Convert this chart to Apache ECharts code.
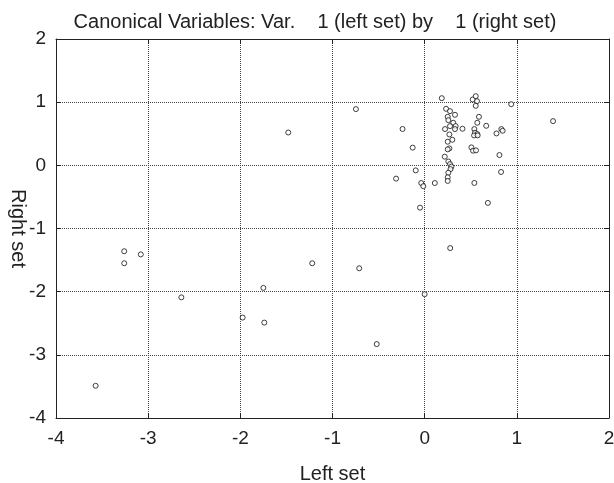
<!DOCTYPE html>
<html>
<head>
<meta charset="utf-8">
<script src="https://cdn.jsdelivr.net/npm/echarts@6/dist/echarts.min.js"></script>
<style>
  html, body { margin: 0; padding: 0; background: #fff; }
  #chart { width: 614px; height: 483px; }
</style>
</head>
<body>
<div id="chart"></div>
<script>
// canonical scores
const leftSet = [
  -3.57, -3.26, -3.26, -3.08, -2.64, -1.975, -1.75, -1.74, -1.48, -1.22,
  -0.746, -0.71, -0.52, -0.31, -0.24, -0.13, -0.097, -0.037, -0.015, -0.05,
  0.0, 0.11, 0.277,
  0.186, 0.521, 0.554, 0.568, 0.554, 0.939, 1.393, 0.232, 0.275, 0.329,
  0.25, 0.257, 0.31, 0.336, 0.275, 0.221, 0.329, 0.41, 0.268, 0.3,
  0.25, 0.268, 0.25, 0.589, 0.571, 0.668, 0.539, 0.546, 0.571, 0.536,
  0.575, 0.779, 0.832, 0.846, 0.507, 0.525, 0.557, 0.811, 0.829, 0.218,
  0.257, 0.275, 0.29, 0.28, 0.257, 0.25, 0.25, 0.539, 0.686
];
const rightSet = [
  -3.49, -1.36, -1.55, -1.41, -2.09, -2.41, -1.94, -2.49, 0.52, -1.55,
  0.89, -1.63, -2.83, -0.21, 0.575, 0.28, -0.08, -0.28, -0.33, -0.67,
  -2.04, -0.28, -1.31,
  1.063, 1.042, 1.095, 1.016, 0.942, 0.968, 0.70, 0.895, 0.858, 0.80,
  0.768, 0.716, 0.674, 0.621, 0.621, 0.574, 0.574, 0.579, 0.489, 0.405,
  0.374, 0.268, 0.253, 0.768, 0.674, 0.626, 0.574, 0.516, 0.495, 0.474,
  0.474, 0.505, 0.574, 0.547, 0.284, 0.232, 0.237, 0.163, -0.105, 0.137,
  0.06, 0.02, -0.02, -0.06, -0.117, -0.19, -0.247, -0.279, -0.595
];

const xMin = -4, xMax = 2;
const yMin = -4, yMax = 2;

const points = leftSet.map((x, i) => [x, rightSet[i]]);

const chart = echarts.init(document.getElementById('chart'), null, { renderer: 'canvas' });

const font = 'Liberation Sans, Arial, sans-serif';
const ink = '#222';
const frame = { show: true, onZero: false, lineStyle: { color: ink, width: 1 } };
const tick = { show: true, inside: true, length: 5, lineStyle: { color: ink } };
const grid = { show: true, lineStyle: { type: 'dotted', color: '#444', width: 1 } };

const option = {
  animation: false,
  backgroundColor: '#fff',
  title: {
    text: 'Canonical Variables: Var.    1 (left set) by    1 (right set)',
    left: 310,
    textAlign: 'center',
    top: 7,
    textStyle: { fontFamily: font, fontSize: 20, fontWeight: 'normal', color: ink }
  },
  grid: { left: 56, right: 5, top: 39, bottom: 65, outerBoundsMode: 'none', containLabel: false },
  xAxis: [{
    type: 'value', min: xMin, max: xMax, interval: 1,
    name: 'Left set', nameLocation: 'middle', nameGap: 46, nameMoveOverlap: false,
    nameTextStyle: { fontFamily: font, fontSize: 20, color: ink },
    axisLine: frame, axisTick: tick,
    axisLabel: { fontFamily: font, fontSize: 19, color: ink, margin: 11 },
    splitLine: grid
  }, {
    type: 'value', position: 'top', min: xMin, max: xMax, interval: 1,
    axisLine: frame, axisTick: tick, axisLabel: { show: false }, splitLine: { show: false }
  }],
  yAxis: [{
    type: 'value', min: yMin, max: yMax, interval: 1,
    name: 'Right set', nameLocation: 'middle', nameGap: 28, nameRotate: -90, nameMoveOverlap: false,
    nameTextStyle: { fontFamily: font, fontSize: 20, color: ink },
    axisLine: frame, axisTick: tick,
    axisLabel: { fontFamily: font, fontSize: 19, color: ink, margin: 10 },
    splitLine: grid
  }, {
    type: 'value', position: 'right', min: yMin, max: yMax, interval: 1,
    axisLine: frame, axisTick: tick, axisLabel: { show: false }, splitLine: { show: false }
  }],
  series: [{
    type: 'scatter',
    data: points,
    symbol: 'circle',
    symbolSize: 5,
    itemStyle: { color: '#fff', borderColor: '#111', borderWidth: 1 }
  }]
};

chart.setOption(option);
</script>
</body>
</html>
